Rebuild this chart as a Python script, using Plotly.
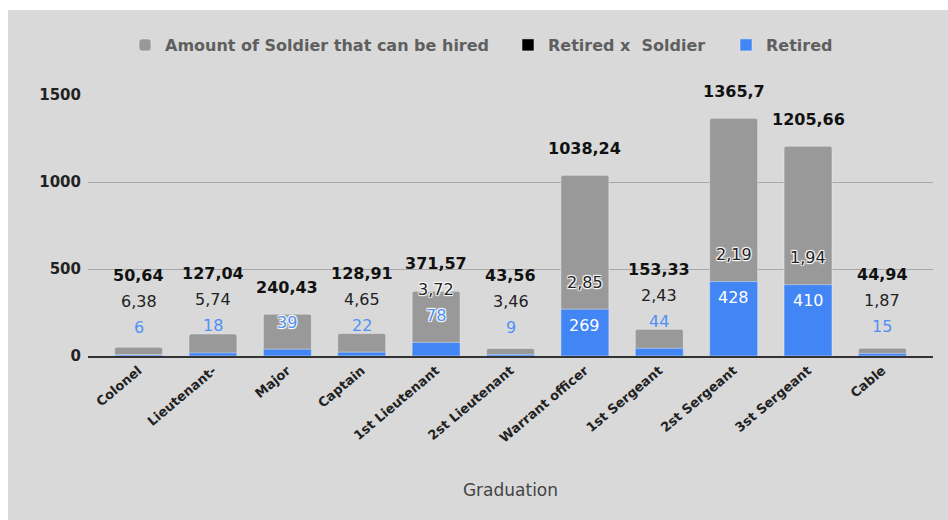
import plotly.graph_objects as go

# ---- data -------------------------------------------------------------
categories = ["Colonel", "Lieutenant-", "Major", "Captain", "1st Lieutenant",
              "2st Lieutenant", "Warrant officer", "1st Sergeant",
              "2st Sergeant", "3st Sergeant", "Cable"]
hireable = [50.64, 127.04, 240.43, 128.91, 371.57, 43.56, 1038.24,
            153.33, 1365.7, 1205.66, 44.94]
retired_x_soldier = [6.38, 5.74, None, 4.65, 3.72, 3.46, 2.85, 2.43,
                     2.19, 1.94, 1.87]
retired = [6, 18, 39, 22, 78, 9, 269, 44, 428, 410, 15]
y_ticks = [0, 500, 1000, 1500]

# ---- style ------------------------------------------------------------
W, H = 948, 520
M_L, M_R, M_T, M_B = 88, 15, 95, 164
Y_MAX = 1500
BG = "#d9d9d9"
GRAY = "#999999"
BLUE = "#4285f4"
BLUE_TXT = "#5090f5"
FONT = "DejaVu Sans"
HALO = ("1px 1px 1px #fff, -1px -1px 1px #fff, "
        "1px -1px 1px #fff, -1px 1px 1px #fff")

plot_h = H - M_T - M_B
px_per_unit = plot_h / Y_MAX


def fmt(v):
    return str(v).replace(".", ",")


fig = go.Figure()
fig.add_trace(go.Bar(x=categories, y=hireable, name="Amount of Soldier that can be hired",
                     marker=dict(color=GRAY, cornerradius=2), width=0.645,
                     legend="legend", showlegend=True, hoverinfo="x+y"))
fig.add_trace(go.Bar(x=categories, y=retired_x_soldier, name="Retired x\u00a0 Soldier",
                     marker=dict(color="#000000"), width=0.645,
                     legend="legend2", showlegend=True, hoverinfo="x+y"))
fig.add_trace(go.Bar(x=categories, y=retired, name="Retired",
                     marker=dict(color=BLUE), width=0.645,
                     legend="legend3", showlegend=True, hoverinfo="x+y"))

# ---- data labels, stacked upward so they never overlap -------------------
OUT_GAP = 27   # label centre above its own bar top
STEP = 26      # distance between stacked label centres
annotations = []


def label(cat, text, centre, color, bold=False, halo=False):
    f = dict(family=FONT, size=16, color=color,
             weight="bold" if bold else "normal")
    if halo:
        f["shadow"] = HALO
    annotations.append(dict(x=cat, y=0, xref="x", yref="y", text=text,
                            showarrow=False, yanchor="middle", xanchor="center",
                            yshift=centre, font=f))


for i, cat in enumerate(categories):
    gray_top = hireable[i] * px_per_unit
    blue_top = retired[i] * px_per_unit
    # blue label: inside the bar if it fits, else above it
    if blue_top >= 30:
        c = blue_top - 16
        label(cat, fmt(retired[i]), c, "#ffffff")
        level = blue_top + OUT_GAP
    else:
        c = blue_top + OUT_GAP
        label(cat, fmt(retired[i]), c, BLUE_TXT, halo=(c - 6 < gray_top))
        level = c + STEP
    # black series label
    v = retired_x_soldier[i]
    if v is not None:
        c = max(level, v * px_per_unit + OUT_GAP)
        label(cat, fmt(v), c, "#222222", halo=(c - 6 < gray_top))
        level = c + STEP
    # gray series label (total)
    c = max(level, gray_top + OUT_GAP)
    label(cat, fmt(hireable[i]), c, "#111111", bold=True)

# ---- frame: white strip on top and left of the chart card ----------------
px_x = lambda p: (p - M_L) / (W - M_L - M_R)
px_y = lambda p: (H - M_B - p) / plot_h
shapes = [
    dict(type="rect", xref="paper", yref="paper", x0=px_x(-5), x1=px_x(W + 5),
         y0=px_y(10), y1=px_y(-5), fillcolor="#ffffff", line=dict(width=0),
         layer="below"),
    dict(type="rect", xref="paper", yref="paper", x0=px_x(-5), x1=px_x(8),
         y0=px_y(H + 5), y1=px_y(-5), fillcolor="#ffffff", line=dict(width=0),
         layer="below"),
]


def legend_at(px):
    return dict(orientation="h", x=px_x(px), xanchor="left",
                y=px_y(45), yanchor="middle", visible=True,
                font=dict(family=FONT, size=16, color="#5f5f5f", weight="bold"),
                bgcolor="rgba(0,0,0,0)")


fig.update_layout(
    width=W, height=H,
    margin=dict(l=M_L, r=M_R, t=M_T, b=M_B, autoexpand=False),
    paper_bgcolor=BG, plot_bgcolor="rgba(0,0,0,0)",
    barmode="overlay",
    showlegend=True,
    font=dict(family=FONT, color="#222222"),
    annotations=annotations,
    shapes=shapes,
    legend=legend_at(125),
    legend2=legend_at(508),
    legend3=legend_at(726),
    xaxis=dict(range=[-0.68, 10.68], tickangle=-40, showgrid=False,
               showline=True, linecolor="#333333", linewidth=2,
               tickfont=dict(family=FONT, size=13, color="#222222", weight="bold"),
               title=dict(text="Graduation", standoff=40,
                          font=dict(family=FONT, size=17, color="#444444")),
               automargin=False),
    yaxis=dict(range=[0, Y_MAX], tickvals=y_ticks, showgrid=True,
               gridcolor="#a8a8a8", gridwidth=1, zeroline=False,
               ticklabelstandoff=6,
               tickfont=dict(family=FONT, size=15, color="#222222", weight="bold"),
               automargin=False),
)

fig.write_html("out.html")
